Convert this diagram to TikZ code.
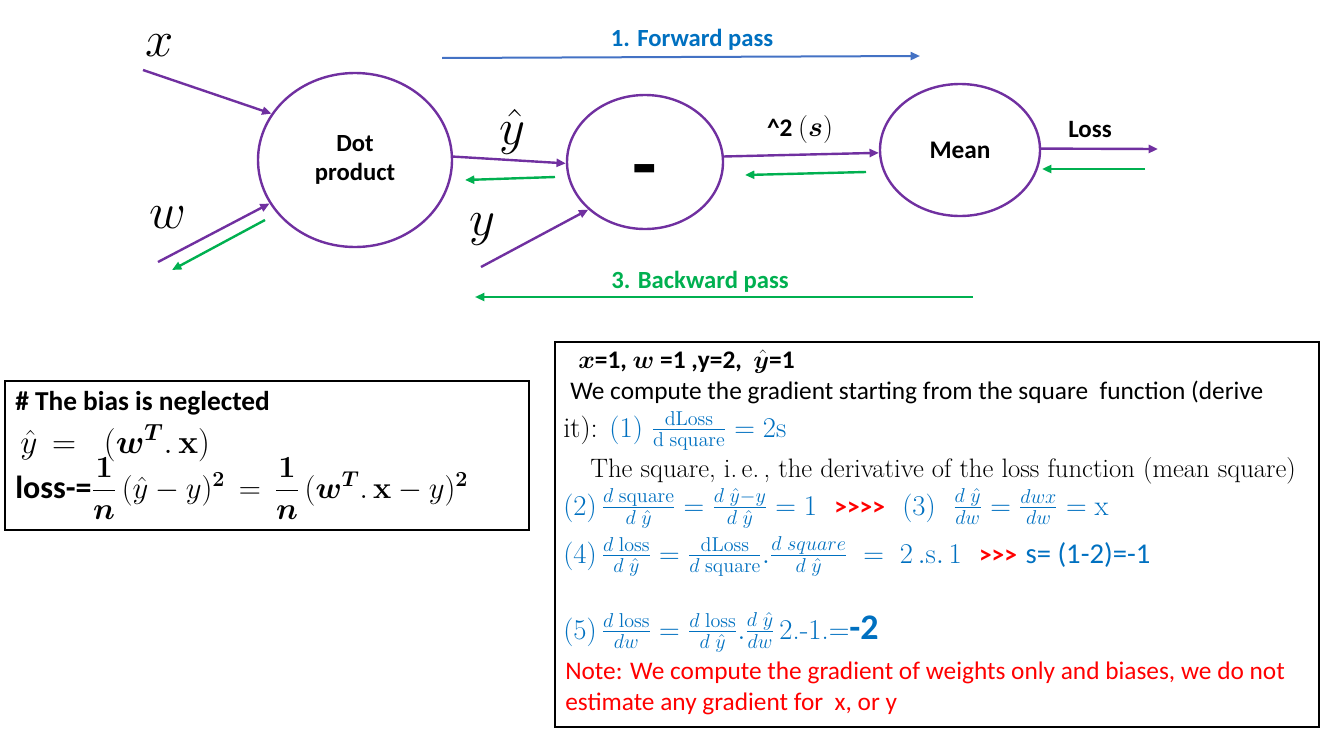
\RequirePackage{fix-cm}
\documentclass[tikz,border=0pt]{standalone}
\usepackage{amsmath,amssymb,bm}
\usepackage[no-math]{fontspec}
\setmainfont{Carlito}
\newfontfamily\serifrm{Latin Modern Roman}
\usepackage{tikz}
\usetikzlibrary{arrows.meta,shapes.geometric}

\definecolor{nnpurple}{HTML}{7030A0}
\definecolor{fwblue}{HTML}{4472C4}
\definecolor{txtblue}{HTML}{0070C0}
\definecolor{bwgreen}{HTML}{00B050}

\begin{document}
\begin{tikzpicture}[
			x=0.75pt, y=-0.75pt,
			opnode/.style={ellipse, draw=nnpurple, line width=1.8pt, inner sep=0pt, font=\bfseries\fontsize{18.5}{22}\selectfont, align=center},
			flow/.style={draw=nnpurple, line width=1.8pt, -{Triangle[length=7pt,width=6pt]}},
			back/.style={draw=bwgreen, line width=1.8pt, -{Triangle[length=7pt,width=6pt]}},
			varlabel/.style={font=\fontsize{38}{42}\selectfont},
			panel/.style={rectangle, draw, line width=0.8pt, inner sep=0pt},
			panelline/.style={anchor=base west, inner sep=0pt, font=\fontsize{19}{22}\selectfont},
			eqline/.style={anchor=base west, inner sep=0pt, text=txtblue, font=\serifrm\fontsize{21.5}{24}\selectfont},
			]
			\useasboundingbox (0,0) rectangle (1321,739);
			%Nodes
			\node[opnode, minimum width=145.5pt, minimum height=130.5pt] (dot)   at (355,160) {Dot\\product};
			\node[opnode, minimum width=117pt, minimum height=100.5pt]   (minus) at (645,162) {\fontsize{60}{60}\selectfont\smash{\raisebox{-22pt}{-}}};
			\node[opnode, minimum width=120pt, minimum height=99pt]      (mean)  at (960,150) {\fontsize{19}{22}\selectfont Mean};

			%Labels
			\node[varlabel] (xlab)    at (160,46)  {$x$};
			\node[varlabel] (wlab)    at (168,218) {$w$};
			\node[varlabel] (ylab)    at (482,230) {$y$};
			\node[varlabel] (yhatlab) at (512,132) {$\hat{y}$};
			\node[font=\bfseries\fontsize{19}{22}\selectfont] (sqlab)   at (800,129) {\^{}2 \fontsize{21}{24}\selectfont$(\bm{s})$};
			\node[font=\bfseries\fontsize{18.7}{22}\selectfont] (losslab) at (1090,130) {Loss};
			\node[font=\bfseries\fontsize{18.5}{22}\selectfont, text=txtblue] (fwlab) at (692,40)  {1. Forward pass};
			\node[font=\bfseries\fontsize{18.5}{22}\selectfont, text=bwgreen] (bwlab) at (700,282) {3. Backward pass};

			%Free ends
			\coordinate (xin) at (143,70);
			\coordinate (win) at (158,262);
			\coordinate (yin) at (481,267);
			\coordinate (lossout) at (1158,149);
			\coordinate (fw1) at (442,58);
			\coordinate (fw2) at (920,56);
			\coordinate (bw1) at (973,297);
			\coordinate (bw2) at (475,297);
			\coordinate (gw1) at (265,220);
			\coordinate (gw2) at (172,270);
			\coordinate (gy1) at (555,177);
			\coordinate (gy2) at (465,180);
			\coordinate (gs1) at (866,172);
			\coordinate (gs2) at (745,175);
			\coordinate (gl1) at (1145,169);
			\coordinate (gl2) at (1042,169);

			%Forward
			\draw[flow] (xin) -- (dot.151);
			\draw[flow] (win) -- (dot.207);
			\draw[flow] (dot.2) -- (minus.181);
			\draw[flow] (yin) -- (minus.220);
			\draw[flow] (minus.4) -- (mean.182);
			\draw[flow] (mean.1) -- (lossout);
			\draw[draw=fwblue, line width=1.5pt, -{Triangle[length=7pt,width=6pt]}] (fw1) -- (fw2);

			%Backward
			\draw[back] (gw1) -- (gw2);
			\draw[back] (gy1) -- (gy2);
			\draw[back] (gs1) -- (gs2);
			\draw[back] (gl1) -- (gl2);
			\draw[draw=bwgreen, line width=1.5pt, -{Triangle[length=7pt,width=6pt]}] (bw1) -- (bw2);

			%Left panel
			\node[panel, minimum width=393pt, minimum height=111.75pt] (modelbox) at (267,455.5) {};
			\node[panelline, font=\bfseries\fontsize{20.5}{24}\selectfont] (bias) at (15,410) {\# The bias is neglected};
			\node[panelline, font=\fontsize{25}{30}\selectfont] (pred) at (20,453) {$\hat{y}\,=\;\;(\bm{w}^{\bm{T}}.\,\mathbf{x})$};
			\node[panelline, font=\bfseries\fontsize{24}{28}\selectfont] (lossdef) at (15,498)
				{loss-=\fontsize{23}{26}\selectfont$\dfrac{\bm 1}{\bm n}\,(\hat{y}-y)^{\bm 2} \,=\, \dfrac{\bm 1}{\bm n}\,(\bm{w}^{\bm T}.\,\mathbf{x}-y)^{\bm 2}$};

			%Right panel
			\node[panel, minimum width=573pt, minimum height=288.75pt] (gradbox) at (937,534.5) {};
			\node[panelline, font=\bfseries\fontsize{18}{22}\selectfont] (vals) at (578,368) {\fontsize{19}{22}\selectfont$\bm{x}$=1, $\bm{w}$ =1 ,y=2, \ $\hat{\bm{y}}$=1};
			\node[panelline] (line1) at (570,399) {We compute the gradient starting from the square \ function (derive};
			\node[eqline, text=black] (line2) at (563,437) {it): \textcolor{txtblue}{(1) $\frac{\mathrm{dLoss}}{\mathrm{d\;square}} = \mathrm{2s}$}};
			\node[eqline, text=black, font=\serifrm\fontsize{20}{24}\selectfont] (line3) at (590,477) {The square, i.\,e.\,, the derivative of the loss function (mean square)};
			\node[eqline] (eq2) at (563,515)
				{(2)\,$\frac{d\;\mathrm{square}}{d\;\hat{y}} = \frac{d\;\hat{y}-y}{d\;\hat{y}} = 1$ \ \textcolor{red}{\normalfont\bfseries\fontsize{19}{22}\selectfont{>}{>}{>}{>}} \ (3) \ $\frac{d\;\hat{y}}{dw} = \frac{dwx}{dw} = \mathrm{x}$};
			\node[eqline] (eq4) at (563,563)
				{(4)\,$\frac{d\;\mathrm{loss}}{d\;\hat{y}} = \frac{\mathrm{dLoss}}{d\;\mathrm{square}}.\frac{d\;square}{d\;\hat{y}} \;=\; 2\,.\mathrm{s}.\,1$ \ \textcolor{red}{\normalfont\bfseries\fontsize{19}{22}\selectfont{>}{>}{>}} {\normalfont s= (1-2)=-1}};
			\node[eqline] (eq5) at (563,639)
				{(5)\,$\frac{d\;\mathrm{loss}}{dw} = \frac{d\;\mathrm{loss}}{d\;\hat{y}}.\frac{d\;\hat{y}}{dw}$\,2.-1.={\normalfont\bfseries\fontsize{27}{30}\selectfont -2}};
			\node[panelline, text=red] (note1) at (565,679) {Note: We compute the gradient of weights only and biases, we do not};
			\node[panelline, text=red] (note2) at (565,710) {estimate any gradient for \ x, or y};
		\end{tikzpicture}
\end{document}
